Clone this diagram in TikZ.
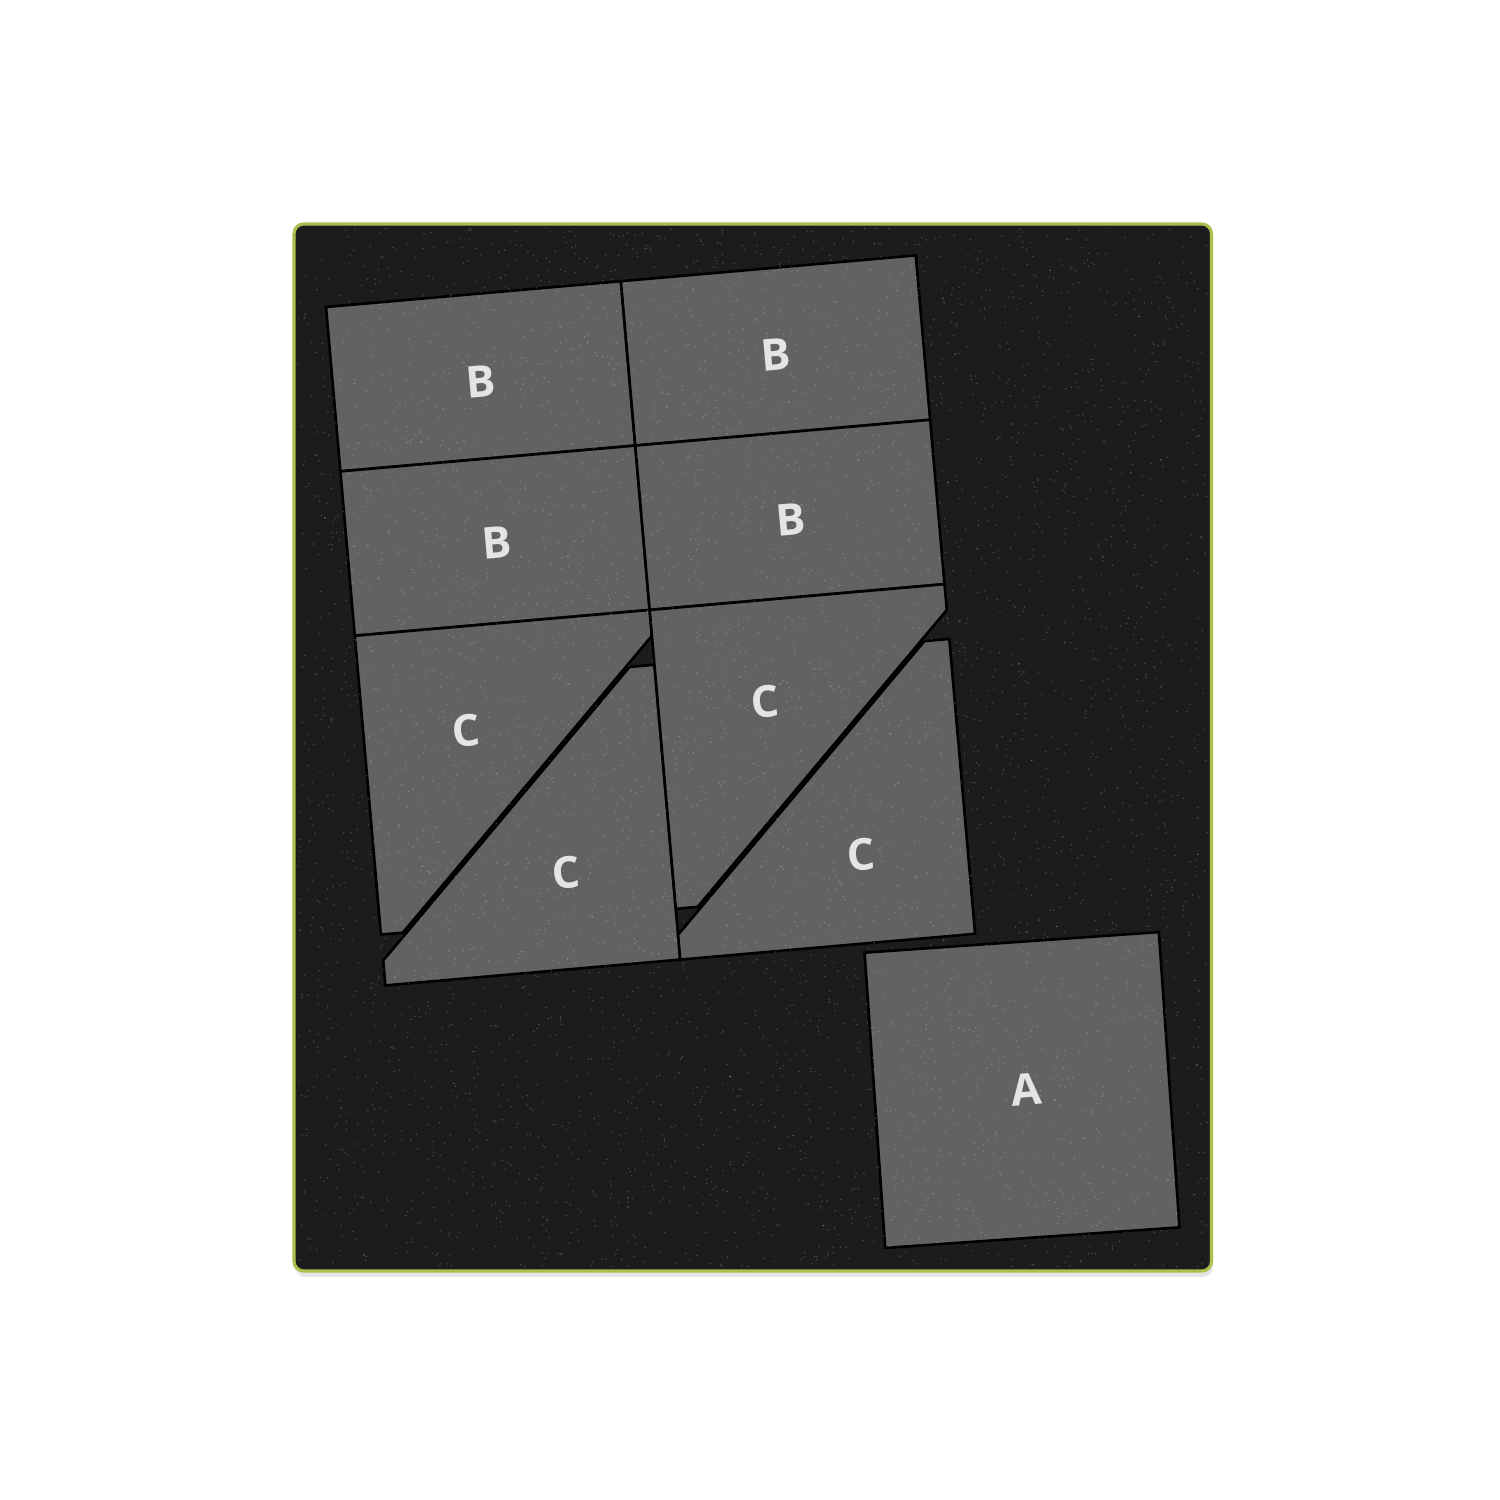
\documentclass[tikz,border=0pt]{standalone}
\usepackage{fontspec}
\setsansfont{Open Sans}
\definecolor{boardc}{RGB}{28,28,28}
\definecolor{piecec}{RGB}{98,98,98}
\definecolor{edgec}{RGB}{172,190,78}
\definecolor{labelc}{RGB}{228,228,228}
\tikzset{
  piece/.style={fill=piecec, draw=black, line width=1.5pt, line join=miter},
  lbl/.style={text=labelc, font=\sffamily\bfseries\fontsize{25}{30}\selectfont, inner sep=0pt, rotate=5},
  board/.style={fill=boardc, draw=edgec, line width=1.8pt, rounded corners=5.5pt},
  speck/.style={fill=white, opacity=0.22}
}
\begin{document}
\begin{tikzpicture}[x=0.02cm,y=-0.02cm]
\fill[white] (0,0) rectangle (1500,1500);
\useasboundingbox (0,0) rectangle (1500,1500);
% shadow and board
\fill[black!10, rounded corners=6pt] (295,229) rectangle (1213,1277);
\path[board] (294,224) rectangle (1211.5,1271);
% B and C pieces (rotated block)
\begin{scope}[shift={(326,307)}, rotate=5]
  \path[piece] (0,0) rectangle (296,165);
  \path[piece] (296,0) rectangle (592,165);
  \path[piece] (0,165) rectangle (296,330);
  \path[piece] (296,165) rectangle (592,330);
  \path[piece] (0,330) -- (296,330) -- (296,356) -- (22,630) -- (0,630) -- cycle;
  \path[piece] (271,385) -- (296,385) -- (296,681) -- (0,681) -- (0,656) -- cycle;
  \path[piece] (296,330) -- (592,330) -- (592,356) -- (318,630) -- (296,630) -- cycle;
  \path[piece] (567,385) -- (592,385) -- (592,681) -- (296,681) -- (296,656) -- cycle;
\end{scope}
% A piece
\begin{scope}[shift={(1022,1090)}, rotate=4]
  \path[piece] (-147.5,-148) rectangle (147.5,148);
\end{scope}
% labels
\node[lbl] (lb1) at (481,382) {B};
\node[lbl] (lb2) at (775.5,355) {B};
\node[lbl] (lb3) at (497,543) {B};
\node[lbl] (lb4) at (791,520) {B};
\node[lbl] (lc1) at (466.5,731) {C};
\node[lbl] (lc2) at (566.5,873) {C};
\node[lbl] (lc3) at (765,702) {C};
\node[lbl] (lc4) at (861,855) {C};
\node[lbl] (la) at (1026.5,1089) {A};
% speckle texture
\pgfmathsetseed{7}
\foreach \i in {1,...,5000}{
  \pgfmathsetmacro{\rx}{298+910*rnd}
  \pgfmathsetmacro{\ry}{228+1039*rnd}
  \path[speck] (\rx,\ry) circle[radius=0.45pt];
}
\end{tikzpicture}
\end{document}
